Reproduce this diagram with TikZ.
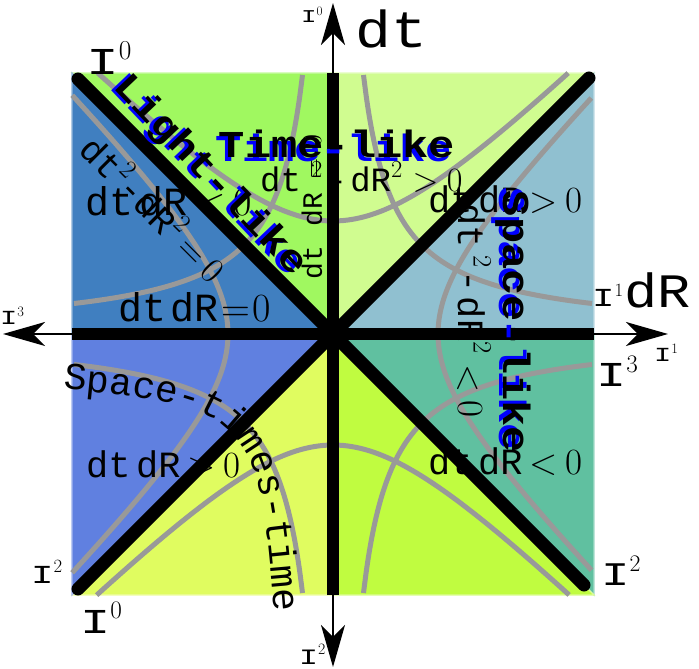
\documentclass[tikz,border=0pt]{standalone}
\usepackage{fontspec}
\newfontfamily\mono{Liberation Mono}
\newfontfamily\monox[FakeStretch=1.15]{Liberation Mono}
\usetikzlibrary{arrows.meta,decorations.text}
\definecolor{cA}{HTML}{A0F860}
\definecolor{cB}{HTML}{407FC0}
\definecolor{cC}{HTML}{D0FC90}
\definecolor{cD}{HTML}{90C0D0}
\definecolor{cE}{HTML}{60C0A0}
\definecolor{cF}{HTML}{C0FC40}
\definecolor{cG}{HTML}{E0FC60}
\definecolor{cH}{HTML}{6080E0}
\definecolor{curvegray}{HTML}{999999}
\newcommand\fsz[1]{\fontsize{#1}{#1}\selectfont}
\newcommand\SUP[1]{\raisebox{0.42em}{\scalebox{0.72}{\rmfamily #1}}}
\newcommand\REL[1]{\kern.2em{\rmfamily #1}\kern.2em}
\newcommand\Zero{{\rmfamily 0}}
\newcommand\II{\scalebox{1.25}[1]{I}}
\newcommand\stfont{\mono\fsz{38}}
\begin{document}
\begin{tikzpicture}[x=1pt,y=1pt,
  region/.style={fill=#1,draw=#1!55!white,line width=1.2pt},
  hyp/.style={draw=curvegray,line width=5pt},
  heavy/.style={line width=12.5pt},
  diag/.style={line width=13pt,line cap=round},
  axisline/.style={line width=2pt,arrows={Stealth[length=42pt,width=24pt,inset=12pt]-Stealth[length=42pt,width=24pt,inset=12pt]}},
  mathtxt/.style={inner sep=0pt,anchor=base west},
  lbl/.style={inner sep=0pt,font=\monox\bfseries\fsz{38},transform shape},
  tag/.style={inner sep=0pt,anchor=base west}]
\useasboundingbox (-333,-335) rectangle (366,334);
% regions
\path[region=cA] (-261,261) -- (0,261) -- (0,0) -- cycle;
\path[region=cB] (-261,261) -- (0,0) -- (-261,0) -- cycle;
\path[region=cC] (0,261) -- (261,261) -- (0,0) -- cycle;
\path[region=cD] (261,261) -- (261,0) -- (0,0) -- cycle;
\path[region=cE] (261,0) -- (261,-261) -- (0,0) -- cycle;
\path[region=cF] (261,-261) -- (0,-261) -- (0,0) -- cycle;
\path[region=cG] (0,-261) -- (-261,-261) -- (0,0) -- cycle;
\path[region=cH] (-261,-261) -- (-261,0) -- (0,0) -- cycle;
% hyperbolas
\draw[hyp] plot[domain=-1.48:1.48,samples=80,smooth] ({113*sinh(\x)},{113*cosh(\x)});
\draw[hyp] plot[domain=-1.5:1.5,samples=80,smooth] ({111*sinh(\x)},{-111*cosh(\x)});
\draw[hyp] plot[domain=-1.55:1.55,samples=80,smooth] ({105*cosh(\x)},{105*sinh(\x)});
\draw[hyp] plot[domain=-1.56:1.56,samples=80,smooth] ({-105*cosh(\x)},{105*sinh(\x)});
\draw[hyp] plot[domain=30.5:259,samples=80,smooth] ({\x},{7900/\x});
\draw[hyp] plot[domain=30.5:259,samples=80,smooth] ({-\x},{7900/\x});
\draw[hyp] plot[domain=30.5:259,samples=80,smooth] ({-\x},{-7900/\x});
\draw[hyp] plot[domain=30.5:259,samples=80,smooth] ({\x},{-7900/\x});
% formulas
\node[mathtxt,font=\mono\fsz{40}] (fA) at (-248,118) {dt\kern.15em dR\REL{<}\Zero};
\node[mathtxt,font=\mono\fsz{40}] (fB) at (-215,12) {dt\kern.12em dR\kern.06em{\rmfamily =}\kern.05em\Zero};
\node[mathtxt,font=\mono\fsz{37}] (fC) at (95,121) {dt\kern.15em dR\REL{>}\Zero};
\node[mathtxt,font=\mono\fsz{37}] (fD) at (95,-141) {dt\kern.15em dR\REL{<}\Zero};
\node[mathtxt,font=\mono\fsz{37}] (fE) at (-247,-143) {dt\kern.15em dR\REL{>}\Zero};
\node[mathtxt,font=\mono\fsz{34}] (fF) at (-73,142) {dt\kern.3em\SUP{2}\kern.12em-\kern.1em dR\SUP{2}\kern.1em\REL{>}\kern.05em\Zero};
\node[mathtxt,font=\mono\fsz{37},rotate=-90] (fG) at (125,131) {dt\kern.2em\SUP{2}\kern.1em-\kern.1em dR\SUP{2}\kern.1em\REL{<}\Zero};
\node[mathtxt,font=\mono\fsz{28},rotate=90] (fH) at (-11,54) {dt\kern.7em dR\kern.5em{\rmfamily =}\kern.4em\Zero};
\node[inner sep=0pt,font=\mono\fsz{36},rotate=-45] (fI) at (-178,127) {dt\SUP{2}-dR\SUP{2}\REL{=}\Zero};
% curved text
\coordinate (st0) at (-270,-55); \coordinate (st1) at (-71,-72);
\coordinate (st2) at (-74,-91);  \coordinate (st3) at (-57,-300);
\path[decorate,decoration={text along path,text align=left,text={|\stfont|Space-times-time}}]
  (st0) .. controls (st1) and (st2) .. (st3);
% heavy lines
\coordinate (hl) at (-261,0); \coordinate (hr) at (261,0);
\coordinate (vt) at (0,261); \coordinate (vb) at (0,-261);
\coordinate (tl) at (-255,255); \coordinate (br) at (251,-251);
\coordinate (tr) at (256,256); \coordinate (bl) at (-255,-255);
\draw[heavy] (hl) -- (hr);
\draw[heavy] (vb) -- (vt);
\draw[diag] (tl) -- (br);
\draw[diag] (tr) -- (bl);
% axes
\coordinate (axT) at (0,331); \coordinate (axB) at (0,-333);
\coordinate (axL) at (-330,0); \coordinate (axR) at (335,0);
\draw[axisline] (axB) -- (axT);
\draw[axisline] (axL) -- (axR);
% axis names
\node[tag,font=\monox\fsz{52}] (dt) at (22,286) {dt};
\node[tag,font=\monox\fsz{48}] (dR) at (291,26) {dR};
% I labels
\node[tag,font=\monox\fsz{18}] (i0top) at (-32,311) {\II\SUP{0}};
\node[tag,font=\monox\fsz{38}] (i0tl) at (-247,259) {\II\SUP{0}};
\node[tag,font=\monox\fsz{20}] (i3left) at (-333,9) {\II\SUP{3}};
\node[tag,font=\monox\fsz{26}] (i1dr) at (259,27) {\II\SUP{1}};
\node[tag,font=\monox\fsz{20}] (i1right) at (321,-28) {\II\SUP{1}};
\node[tag,font=\monox\fsz{35}] (i3right) at (263,-53) {\II\SUP{3}};
\node[tag,font=\monox\fsz{33}] (i2br) at (268,-251) {\II\SUP{2}};
\node[tag,font=\monox\fsz{26}] (i2bl) at (-302,-249) {\II\SUP{2}};
\node[tag,font=\monox\fsz{35}] (i0bl) at (-253,-299) {\II\SUP{0}};
\node[tag,font=\monox\fsz{22}] (i2bot) at (-34,-330) {\II\SUP{2}};
% shadowed labels
\begin{scope}[shift={(4,190)}]
  \node[lbl,text=blue] at (-3,-3.5) {Time-like};
  \node[lbl] (time) at (0,0) {Time-like};
\end{scope}
\begin{scope}[shift={(-123,158)},rotate=-46.5]
  \node[lbl,text=blue] at (-3,-3.5) {Light-like};
  \node[lbl] (light) at (0,0) {Light-like};
\end{scope}
\begin{scope}[shift={(180,12)},rotate=-90]
  \node[lbl,text=blue] at (-3,-3.5) {Space-like};
  \node[lbl] (space) at (0,0) {Space-like};
\end{scope}
\end{tikzpicture}
\end{document}
